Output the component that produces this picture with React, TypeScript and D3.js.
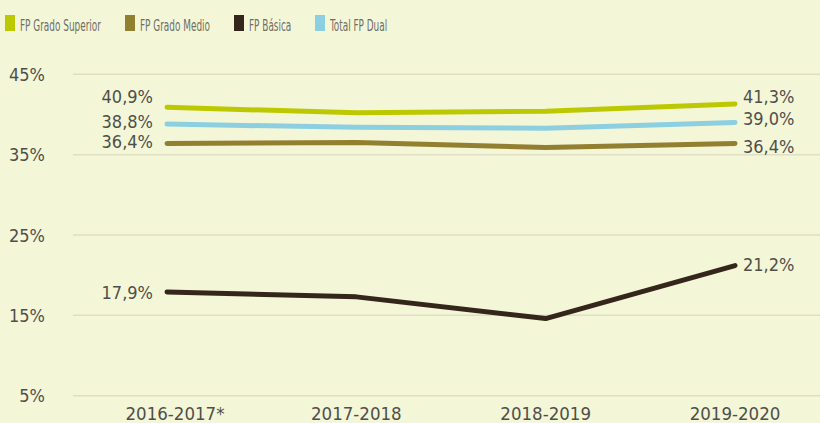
import { useEffect, useRef } from "react";
import * as d3 from "d3";

const categories = ["2016-2017*", "2017-2018", "2018-2019", "2019-2020"];
const seriesNames = ["FP Grado Superior", "FP Grado Medio", "FP Básica", "Total FP Dual"];
const seriesColors = ["#bdc900", "#937f30", "#34261b", "#8ccfe0"];
const gradoSuperior = [40.9, 40.2, 40.4, 41.3];
const gradoMedio = [36.4, 36.5, 35.9, 36.4];
const basica = [17.9, 17.3, 14.6, 21.2];
const totalDual = [38.8, 38.4, 38.3, 39.0];
const yTicks = [5, 15, 25, 35, 45];

const W = 820;
const H = 423;
const FONT = "'DejaVu Sans Condensed', 'DejaVu Sans', sans-serif";

// nudges so the end labels don't collide (per series)
const leftDy = [-4, 4.5, 7, 4];
const rightDy = [-1, 9.5, 5, 2.5];

const fmt = (v: number) => v.toFixed(1).replace(".", ",") + "%";

const App = () => {
  const svgRef = useRef<SVGSVGElement | null>(null);

  useEffect(() => {
    const svg = d3.select(svgRef.current);
    svg.selectAll("*").remove();

    const series = [gradoSuperior, gradoMedio, basica, totalDual];

    const x = d3.scalePoint<string>().domain(categories).range([167, 735]);
    const y = d3.scaleLinear().domain([5, 45]).range([395.7, 74.3]);

    svg.append("rect").attr("width", W).attr("height", H).attr("fill", "#f4f6d8");

    // legend
    const legendX = [5, 125, 234, 315];
    const legend = svg
      .append("g")
      .selectAll("g")
      .data(seriesNames)
      .enter()
      .append("g")
      .attr("transform", (_, i) => `translate(${legendX[i]},15)`);
    legend
      .append("rect")
      .attr("width", 10)
      .attr("height", 16)
      .attr("fill", (_, i) => seriesColors[i]);
    legend
      .append("text")
      .attr("transform", "translate(15,16) scale(0.6,1)")
      .attr("font-family", FONT)
      .attr("font-size", 16.5)
      .attr("fill", "#6e6e66")
      .text((d) => d);

    // grid + y labels
    const grid = svg.append("g");
    grid
      .selectAll("line")
      .data(yTicks)
      .enter()
      .append("line")
      .attr("x1", 73)
      .attr("x2", W)
      .attr("y1", (d) => y(d))
      .attr("y2", (d) => y(d))
      .attr("stroke", "#e0dec3")
      .attr("stroke-width", 1.5);
    grid
      .selectAll("text")
      .data(yTicks)
      .enter()
      .append("text")
      .attr("x", 45)
      .attr("y", (d) => y(d) + 6.5)
      .attr("text-anchor", "end")
      .attr("font-family", FONT)
      .attr("font-size", 18)
      .attr("fill", "#4f4f4a")
      .text((d) => d + "%");

    // x labels
    svg
      .append("g")
      .selectAll("text")
      .data(categories)
      .enter()
      .append("text")
      .attr("x", (d, i) => (x(d) as number) + (i === 0 ? 8 : 0))
      .attr("y", 420)
      .attr("text-anchor", "middle")
      .attr("font-family", FONT)
      .attr("font-size", 18.5)
      .attr("fill", "#4f4f4a")
      .text((d) => d);

    // lines
    const line = d3
      .line<number>()
      .x((_, i) => x(categories[i]) as number)
      .y((d) => y(d));

    const drawOrder = [2, 1, 3, 0];
    drawOrder.forEach((s) => {
      svg
        .append("path")
        .attr("d", line(series[s]))
        .attr("fill", "none")
        .attr("stroke", seriesColors[s])
        .attr("stroke-width", 5)
        .attr("stroke-linecap", "round")
        .attr("stroke-linejoin", "round");
    });

    // value labels
    const last = categories.length - 1;
    series.forEach((vals, s) => {
      svg
        .append("text")
        .attr("x", 153)
        .attr("y", y(vals[0]) + leftDy[s])
        .attr("text-anchor", "end")
        .attr("font-family", FONT)
        .attr("font-size", 18)
        .attr("fill", "#4f4f4a")
        .text(fmt(vals[0]));
      svg
        .append("text")
        .attr("x", 743)
        .attr("y", y(vals[last]) + rightDy[s])
        .attr("text-anchor", "start")
        .attr("font-family", FONT)
        .attr("font-size", 18)
        .attr("fill", "#4f4f4a")
        .text(fmt(vals[last]));
    });
  }, []);

  return (
    <svg
      ref={svgRef}
      width={W}
      height={H}
      style={{ position: "absolute", left: 0, top: 0, display: "block" }}
    ></svg>
  );
};

export default App;
